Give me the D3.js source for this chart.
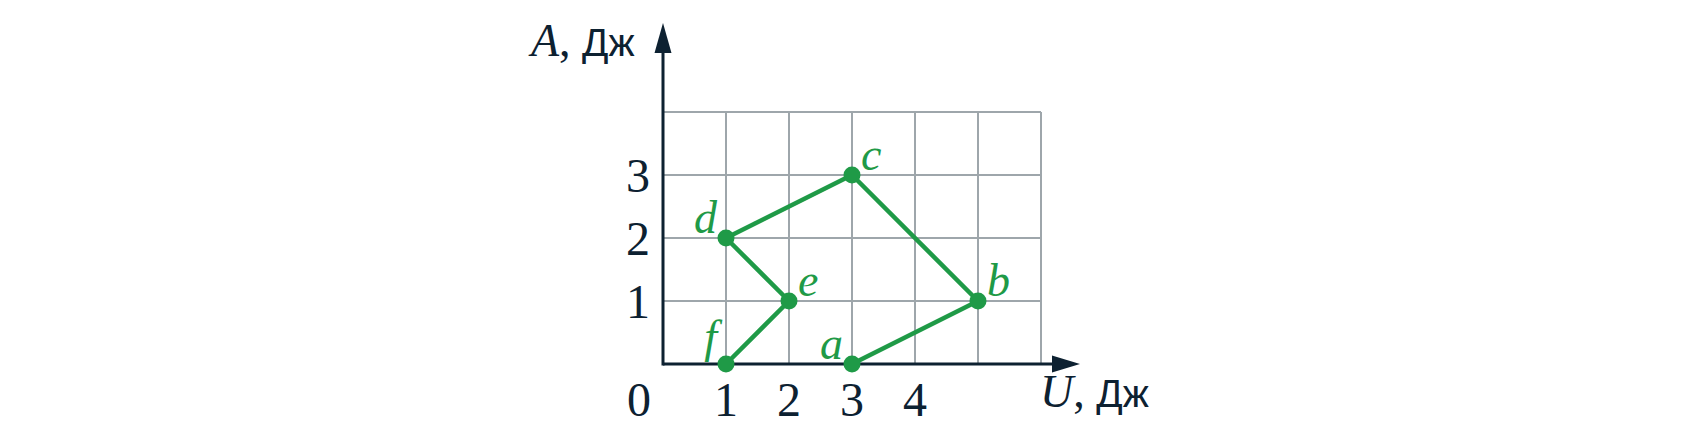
<!DOCTYPE html>
<html><head><meta charset="utf-8">
<script src="https://cdn.jsdelivr.net/npm/d3@7"></script>
<style>html,body{margin:0;padding:0;background:#fff;}svg{display:block;}</style>
</head><body>
<script>
const xTickLabels = [0, 1, 2, 3, 4];
const yTickLabels = [1, 2, 3];
const gridX = [0, 1, 2, 3, 4, 5, 6];
const gridY = [0, 1, 2, 3, 4];
const pointNames = ["a", "b", "c", "d", "e", "f"];
const pointU = [3, 5, 3, 1, 2, 1];
const pointA = [0, 1, 3, 2, 1, 0];
const labelSide = ["left", "right", "right", "left", "right", "left"];

const W = 1688, H = 435;
const axisColor = "#0d2131", green = "#1f9a47", gridColor = "#9ea6ab";
const svg = d3.select("body").append("svg").attr("width", W).attr("height", H);

const x = d3.scaleLinear().domain([0, 6]).range([663, 1041]);
const y = d3.scaleLinear().domain([0, 4]).range([364, 112]);

// grid
const g = svg.append("g");
g.selectAll("line.v").data(gridX.slice(1)).join("line")
  .attr("x1", d => x(d)).attr("x2", d => x(d))
  .attr("y1", y(0)).attr("y2", y(4))
  .attr("stroke", gridColor).attr("stroke-width", 2);
g.selectAll("line.h").data(gridY.slice(1)).join("line")
  .attr("x1", x(0)).attr("x2", x(6))
  .attr("y1", d => y(d)).attr("y2", d => y(d))
  .attr("stroke", gridColor).attr("stroke-width", 2);

// axes
svg.append("line").attr("x1", x(0)).attr("x2", 1058).attr("y1", y(0)).attr("y2", y(0))
  .attr("stroke", axisColor).attr("stroke-width", 3);
svg.append("path").attr("d", `M1080,${y(0)} L1052,${y(0)-8.5} L1052,${y(0)+8.5} Z`).attr("fill", axisColor);
svg.append("line").attr("x1", x(0)).attr("x2", x(0)).attr("y1", y(0)+1.5).attr("y2", 48)
  .attr("stroke", axisColor).attr("stroke-width", 3);
svg.append("path").attr("d", `M${x(0)},23 L${x(0)-8.5},53 L${x(0)+8.5},53 Z`).attr("fill", axisColor);

// tick labels
svg.selectAll("text.xt").data(xTickLabels).join("text")
  .attr("x", d => d === 0 ? x(0) - 24 : x(d)).attr("y", 416)
  .attr("text-anchor", "middle").attr("font-family", "Liberation Serif, serif")
  .attr("font-size", 48).attr("fill", axisColor).text(d => d);
svg.selectAll("text.yt").data(yTickLabels).join("text")
  .attr("x", 638).attr("y", d => y(d) + 16.5)
  .attr("text-anchor", "middle").attr("font-family", "Liberation Serif, serif")
  .attr("font-size", 48).attr("fill", axisColor).text(d => d);

// axis titles
function axisTitle(sym, xPos, yPos) {
  const t = svg.append("text").attr("x", xPos).attr("y", yPos).attr("fill", axisColor);
  t.append("tspan").attr("font-family", "Liberation Serif, serif").attr("font-style", "italic")
    .attr("font-size", 46).text(sym);
  t.append("tspan").attr("font-family", "Liberation Serif, serif").attr("font-size", 46).text(", ");
  t.append("tspan").attr("font-family", "Liberation Sans, sans-serif").attr("font-size", 39).text("Дж");
}
axisTitle("A", 531, 56);
axisTitle("U", 1040, 407);

// path
const pts = pointNames.map((n, i) => ({name: n, u: pointU[i], a: pointA[i], side: labelSide[i]}));
svg.append("path").datum(pts)
  .attr("d", d3.line().x(d => x(d.u)).y(d => y(d.a)))
  .attr("fill", "none").attr("stroke", green).attr("stroke-width", 4.5).attr("stroke-linejoin", "round");
svg.selectAll("circle.p").data(pts).join("circle")
  .attr("cx", d => x(d.u)).attr("cy", d => y(d.a)).attr("r", 8.5).attr("fill", green);
svg.selectAll("text.pl").data(pts).join("text")
  .attr("x", d => d.side === "right" ? x(d.u) + 9 : x(d.u) - 9)
  .attr("y", d => y(d.a) - (d.name === "f" ? 12 : 5))
  .attr("text-anchor", d => d.side === "right" ? "start" : "end")
  .attr("font-family", "Liberation Serif, serif").attr("font-style", "italic")
  .attr("font-size", 46).attr("fill", green).text(d => d.name);
</script>
</body></html>
